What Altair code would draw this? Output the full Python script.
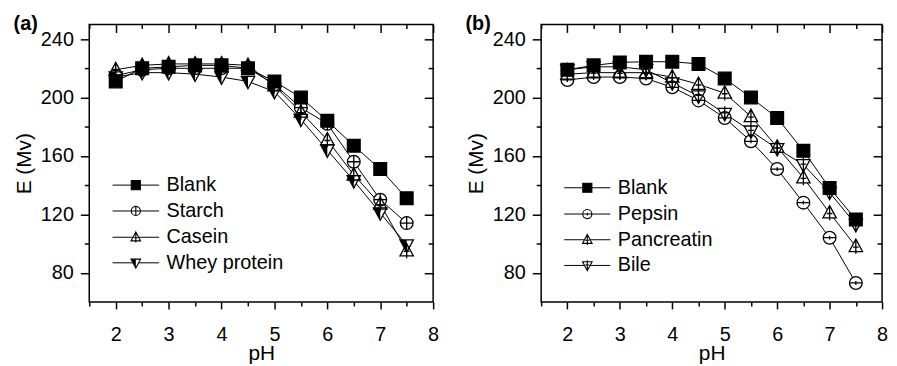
import altair as alt
import pandas as pd

FONT = "Liberation Sans"

# ---------------- data ----------------
PH = [2, 2.5, 3, 3.5, 4, 4.5, 5, 5.5, 6, 6.5, 7, 7.5]

A_NAMES = ["Blank", "Starch", "Casein", "Whey protein"]
A_BLANK = [211, 220, 221, 222, 222, 220, 211, 200, 184, 167, 151, 131]
A_STARCH = [215, 219, 220, 220, 220, 220, 209, 193, 182, 156, 130, 114]
A_CASEIN = [219, 222, 223, 223, 223, 222, 208, 190, 171, 147, 127, 95]
A_WHEY = [214, 217, 217, 216, 214, 211, 204, 185, 164, 143, 121, 99]

B_NAMES = ["Blank", "Pepsin", "Pancreatin", "Bile"]
B_BLANK = [219, 222, 224, 224.5, 224.5, 223, 213, 200, 186, 163.5, 138, 116.5]
B_PEPSIN = [212, 214, 214, 213, 207, 198, 186, 170, 151, 128, 104, 73]
B_PANCREATIN = [216, 217, 217, 217, 214, 209, 203, 187, 166, 145, 121, 98]
B_BILE = [219, 221, 221, 219, 210, 201, 189, 177, 165, 154, 135, 113]

X_MAJOR = [2, 3, 4, 5, 6, 7, 8]
X_MINOR = [1.5, 2.5, 3.5, 4.5, 5.5, 6.5, 7.5]
Y_MAJOR = [80, 120, 160, 200, 240]
Y_MINOR = [100, 140, 180, 220]
X_DOMAIN = [1.5, 8]
Y_DOMAIN = [60, 250]

# legend rows (data units)
LEG_Y_A = [140, 122.3, 104.3, 86.8]
LEG_Y_B = [138.2, 120.2, 102.6, 85.0]
LEG_X0, LEG_X1, LEG_XS, LEG_XT = 1.94, 2.82, 2.38, 2.96

# ---------------- marker shapes ----------------
P_SQUARE = "M-1,-1L1,-1L1,1L-1,1Z"
P_CIRCLE = "M-1,0A1,1,0,1,0,1,0A1,1,0,1,0,-1,0Z"
P_CIRC_CROSS = P_CIRCLE + "M-1,0L1,0M0,-1L0,1"
P_CIRC_H = P_CIRCLE + "M-1,0L1,0M0,-0.3L0,0.3"
P_TUP = "M0,-1.15L1.05,0.8L-1.05,0.8Z"
P_TUP_CROSS = P_TUP + "M0,-1.15L0,1.15M-0.45,0.1L0.45,0.1"
P_TDN = "M-1.05,-0.8L1.05,-0.8L0,1.15Z"
P_TDN_CROSS = P_TDN + "M0,-1.15L0,1.15M-0.45,-0.1L0.45,-0.1"
P_TDN_LEFT = "M-1.05,-0.8L0,-0.8L0,1.15Z"

SIZE = 165
LSIZE = 85

AX_COMMON = dict(domain=False, grid=False, tickColor="black", tickWidth=1.5,
                 labelColor="black", labelFont=FONT, labelFontSize=20,
                 titleFont=FONT, titleFontSize=21, titleFontWeight="normal",
                 titleColor="black")


def make_axis(orient, values, tick, labels=False, title=None, offset=None, **kw):
    d = dict(AX_COMMON)
    d.update(orient=orient, values=values, tickSize=tick, labels=labels, title=title)
    if offset is not None:
        d["offset"] = offset
    d.update(kw)
    return alt.Axis(**d)


def panel(names, series, shapes, fills, leg_y, W, H, label, half_name=None):
    rows = []
    for n, vals in zip(names, series):
        for p, v in zip(PH, vals):
            rows.append({"series": n, "pH": p, "E": v})
    df = pd.DataFrame(rows)
    leg = pd.DataFrame({"series": names, "y": leg_y,
                        "x0": [LEG_X0] * 4, "x1": [LEG_X1] * 4,
                        "xs": [LEG_XS] * 4, "xt": [LEG_XT] * 4})

    def sx():
        return alt.Scale(domain=X_DOMAIN, nice=False, zero=False)

    def sy():
        return alt.Scale(domain=Y_DOMAIN, nice=False, zero=False)

    shape = alt.Shape("series:N", scale=alt.Scale(domain=names, range=shapes), legend=None)
    fill = alt.Fill("series:N", scale=alt.Scale(domain=names, range=fills), legend=None)

    ax_x_major = make_axis("bottom", X_MAJOR, 7, labels=True, title="pH",
                           labelPadding=16, titlePadding=-2, labelFlush=False,
                           labelOverlap=False, format="d")
    ax_x_minor = make_axis("bottom", X_MINOR, 4)
    ax_x_top_major = make_axis("bottom", X_MAJOR, 8, offset=-H)
    ax_x_top_minor = make_axis("bottom", X_MINOR, 4, offset=-H)
    ax_y_major = make_axis("left", Y_MAJOR, 9, labels=True, title="E (Mv)",
                           labelPadding=7, titlePadding=6)
    ax_y_minor = make_axis("left", Y_MINOR, 5)
    ax_y_right_major = make_axis("left", Y_MAJOR, 9, offset=-W)
    ax_y_right_minor = make_axis("left", Y_MINOR, 5, offset=-W)

    base = alt.Chart(df)
    lines = base.mark_line(color="black", strokeWidth=1).encode(
        x=alt.X("pH:Q", scale=sx(), axis=ax_x_major),
        y=alt.Y("E:Q", scale=sy(), axis=ax_y_major),
        detail="series:N", order="pH:Q")
    knock = base.mark_point(filled=True, fill="white", strokeWidth=0, size=SIZE, opacity=1).encode(
        x=alt.X("pH:Q", scale=sx(), axis=ax_x_minor),
        y=alt.Y("E:Q", scale=sy(), axis=ax_y_minor),
        shape=shape)
    layers = [lines, knock]
    if half_name:
        halfl = base.transform_filter(alt.datum.series == half_name).mark_point(
            shape=P_TDN_LEFT, filled=True, fill="black", strokeWidth=0, size=SIZE, opacity=1).encode(
            x=alt.X("pH:Q", scale=sx(), axis=None),
            y=alt.Y("E:Q", scale=sy(), axis=None))
        layers.append(halfl)
    outline = base.mark_point(filled=True, stroke="black", strokeWidth=1.3, size=SIZE, opacity=1).encode(
        x=alt.X("pH:Q", scale=sx(), axis=ax_x_top_major),
        y=alt.Y("E:Q", scale=sy(), axis=ax_y_right_major),
        shape=shape, fill=fill)
    layers.append(outline)

    lbase = alt.Chart(leg)
    lrule = lbase.mark_rule(color="black", strokeWidth=1).encode(
        x=alt.X("x0:Q", scale=sx(), axis=ax_x_top_minor),
        x2="x1:Q",
        y=alt.Y("y:Q", scale=sy(), axis=ax_y_right_minor))
    lknock = lbase.mark_point(filled=True, fill="white", strokeWidth=0, size=LSIZE, opacity=1).encode(
        x=alt.X("xs:Q", scale=sx(), axis=None),
        y=alt.Y("y:Q", scale=sy(), axis=None),
        shape=shape)
    layers += [lrule, lknock]
    if half_name:
        lhalf = lbase.transform_filter(alt.datum.series == half_name).mark_point(
            shape=P_TDN_LEFT, filled=True, fill="black", strokeWidth=0, size=LSIZE, opacity=1).encode(
            x=alt.X("xs:Q", scale=sx(), axis=None),
            y=alt.Y("y:Q", scale=sy(), axis=None))
        layers.append(lhalf)
    lout = lbase.mark_point(filled=True, stroke="black", strokeWidth=1.1, size=LSIZE, opacity=1).encode(
        x=alt.X("xs:Q", scale=sx(), axis=None),
        y=alt.Y("y:Q", scale=sy(), axis=None),
        shape=shape, fill=fill)
    ltext = lbase.mark_text(align="left", baseline="middle", fontSize=20, font=FONT, color="black").encode(
        x=alt.X("xt:Q", scale=sx(), axis=None),
        y=alt.Y("y:Q", scale=sy(), axis=None),
        text="series:N")
    layers += [lout, ltext]

    return alt.layer(*layers).resolve_axis(x="independent", y="independent").properties(
        width=W, height=H,
        title=alt.TitleParams(label, anchor="start", frame="bounds", fontSize=20,
                              fontWeight="bold", font=FONT, offset=-26,
                              baseline="alphabetic", color="black"))


pa = panel(A_NAMES, [A_BLANK, A_STARCH, A_CASEIN, A_WHEY],
           [P_SQUARE, P_CIRC_CROSS, P_TUP_CROSS, P_TDN],
           ["black", "transparent", "transparent", "transparent"],
           LEG_Y_A, 347, 280, "(a)", half_name="Whey protein")
pb = panel(B_NAMES, [B_BLANK, B_PEPSIN, B_PANCREATIN, B_BILE],
           [P_SQUARE, P_CIRC_H, P_TUP_CROSS, P_TDN_CROSS],
           ["black", "transparent", "transparent", "transparent"],
           LEG_Y_B, 344, 280, "(b)")

chart = alt.hconcat(pa, pb, spacing=109, bounds="flush").resolve_scale(
    shape="independent", fill="independent"
).properties(
    padding={"left": 4, "top": 3, "right": 0, "bottom": 0}
).configure_view(stroke="black", strokeWidth=1.5)

chart.save("out.html", embed_options={"renderer": "svg", "actions": False})
